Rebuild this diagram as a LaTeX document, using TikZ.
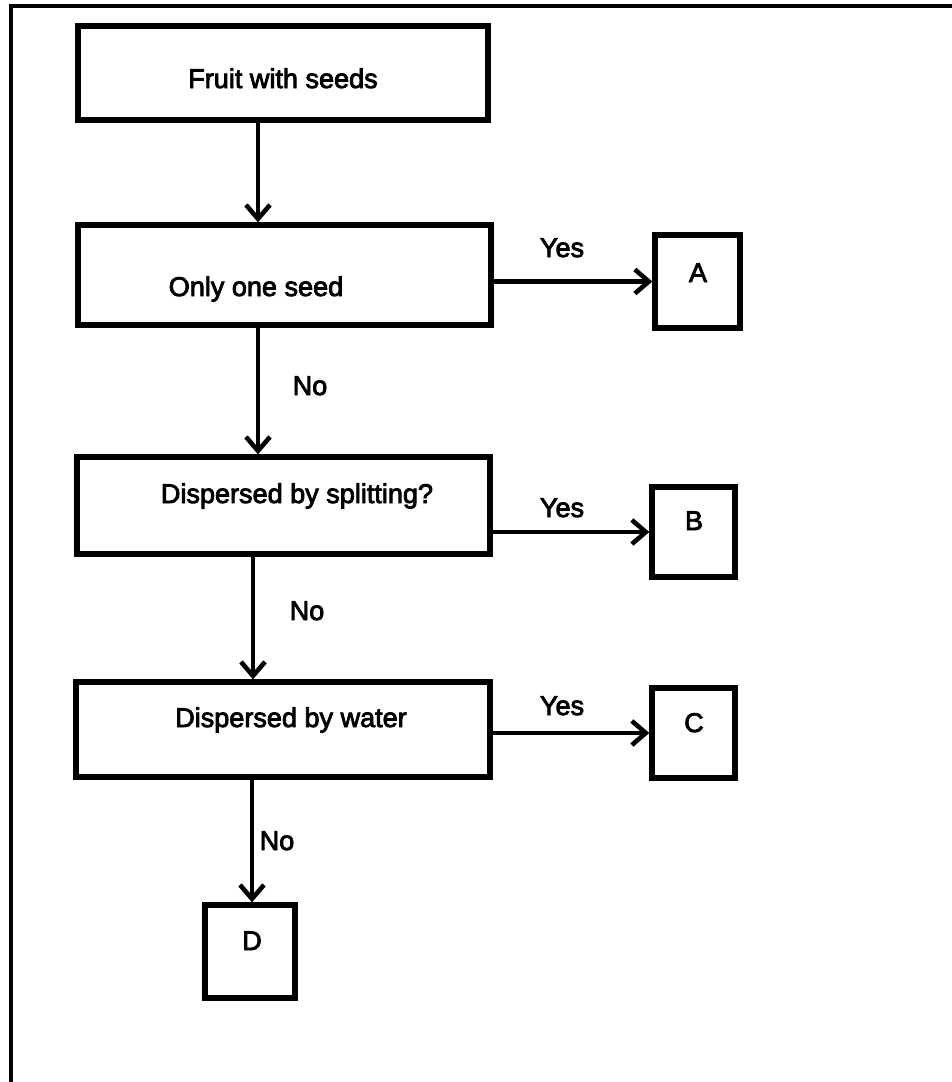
\documentclass[tikz,border=0pt]{standalone}
\usepackage{fontspec}
\setmainfont{Liberation Sans}[BoldFont={Liberation Sans},BoldFeatures={FakeBold=3}]
\usetikzlibrary{arrows.meta}
\begin{document}
\begin{tikzpicture}[x=0.02cm,y=-0.02cm,
  box/.style={draw,line width=3pt,rectangle,inner sep=0pt},
  txt/.style={anchor=base,inner sep=0pt,font=\fontsize{15.4}{18}\selectfont\bfseries},
  arr/.style={line width=2.6pt,-{Straight Barb[length=0.28cm,width=0.48cm,line width=2.6pt]}},
  frame/.style={line width=1.8pt}]
\useasboundingbox (0,0) rectangle (952,1082);
% page frame (left and top edges)
\coordinate (f0) at (11,1082);
\coordinate (f1) at (11,6);
\coordinate (f2) at (952,6);
\draw[frame] (f0) -- (f1) -- (f2);

% decision boxes
\node[box,minimum width=8.2cm,minimum height=1.88cm] (b1) at (283,73) {};
\node[box,minimum width=8.26cm,minimum height=2.0cm] (b2) at (284.5,275) {};
\node[box,minimum width=8.26cm,minimum height=1.94cm] (b3) at (283.5,505.5) {};
\node[box,minimum width=8.28cm,minimum height=1.9cm] (b4) at (283,729.5) {};
% outcome boxes
\node[box,minimum width=1.7cm,minimum height=1.86cm] (A) at (697.5,281.5) {};
\node[box,minimum width=1.66cm,minimum height=1.8cm] (B) at (693.5,532) {};
\node[box,minimum width=1.66cm,minimum height=1.8cm] (C) at (693.5,733) {};
\node[box,minimum width=1.8cm,minimum height=1.86cm] (D) at (250,951.5) {};

% box texts
\node[txt] (t1) at (283,88) {Fruit with seeds};
\node[txt] (t2) at (256,296) {Only one seed};
\node[txt] (t3) at (297,503) {Dispersed by splitting?};
\node[txt] (t4) at (291,727) {Dispersed by water};
\node[txt] (tA) at (698,282) {A};
\node[txt] (tB) at (694,530) {B};
\node[txt] (tC) at (694,732) {C};
\node[txt] (tD) at (252,950) {D};

% columns of the vertical connectors
\coordinate (k1) at (258,0);
\coordinate (k2) at (253,0);
\coordinate (k3) at (252,0);

% vertical connectors
\draw[arr] (b1.south -| k1) -- (b2.north -| k1);
\draw[arr] (b2.south -| k1) -- (b3.north -| k1);
\draw[arr] (b3.south -| k2) -- (b4.north -| k2);
\draw[arr] (b4.south -| k3) -- (D.north -| k3);

% horizontal connectors
\draw[arr] (b2.east |- A.west) -- (A.west);
\draw[arr] (b3.east |- B.west) -- (B.west);
\draw[arr] (b4.east |- C.west) -- (C.west);

% branch labels
\node[txt] (y1) at (562,257) {Yes};
\node[txt] (y2) at (562,517) {Yes};
\node[txt] (y3) at (562,715) {Yes};
\node[txt] (n1) at (310,395) {No};
\node[txt] (n2) at (307,620) {No};
\node[txt] (n3) at (277,850) {No};
\end{tikzpicture}
\end{document}
